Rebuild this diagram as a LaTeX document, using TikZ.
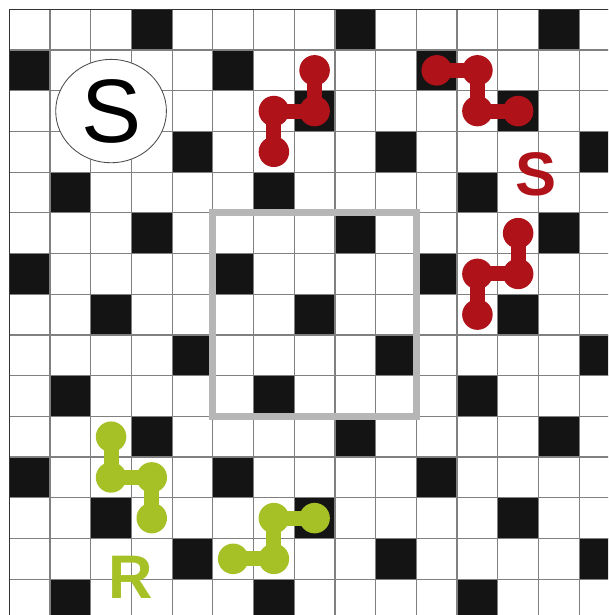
\documentclass[tikz,border=0pt]{standalone}
\usepackage{fontspec}
\setmainfont{Liberation Sans}
\usetikzlibrary{shapes.geometric}
\definecolor{cellblack}{HTML}{141414}
\definecolor{gridgray}{HTML}{808080}
\definecolor{boxgray}{HTML}{B6B6B6}
\definecolor{molred}{HTML}{B0121A}
\definecolor{molgreen}{HTML}{A6C125}
\tikzset{
  gridline/.style={draw=gridgray, line width=0.8pt},
  blackcell/.style={fill=cellblack},
  graybox/.style={draw=boxgray, line width=4.9pt},
  reddot/.style={circle, fill=molred, minimum size=0.75cm, inner sep=0pt},
  redbar/.style={draw=molred, line width=10.4pt},
  greendot/.style={circle, fill=molgreen, minimum size=0.75cm, inner sep=0pt},
  greenbar/.style={draw=molgreen, line width=10.4pt},
  biglabel/.style={font=\bfseries\fontsize{43}{43}\selectfont, inner sep=0pt}
}
\begin{document}
\begin{tikzpicture}[x=1cm,y=1cm]
\useasboundingbox (-0.2285,0.2285) rectangle (14.71,-14.88);
\fill[white] (-0.2285,0.2285) rectangle (14.71,-14.88);
\clip (-0.2285,0.2285) rectangle (14.71,-14.88);
% black cells
\foreach \r in {0,...,14} {
  \foreach \k in {0,1,2} {
    \pgfmathtruncatemacro\c{mod(3+2*\r,5)+5*\k}
    \fill[blackcell] (\c,-\r) rectangle ++(1,-1);
  }
}
% grid
\draw[gridline] (0,0) grid (15,-15);
\draw[draw=black!80, line width=0.8pt] (0,-15) -- (0,0) -- (15,0);
% gray square
\draw[graybox] (5,-5) rectangle (10,-10);
% start circle
\node[ellipse, draw=black!70, line width=0.6pt, fill=white, minimum width=2.72cm, minimum height=2.54cm, inner sep=0pt, font=\fontsize{63}{63}\selectfont] (start) at (2.5,-2.5) {S};
% red molecule 1
\node[reddot] (r1a) at (7.5,-1.5) {};
\node[reddot] (r1b) at (7.5,-2.5) {};
\node[reddot] (r1c) at (6.5,-2.5) {};
\node[reddot] (r1d) at (6.5,-3.5) {};
\draw[redbar] (r1a.center) -- (r1b.center) -- (r1c.center) -- (r1d.center);
% red molecule 2
\node[reddot] (r2a) at (10.5,-1.5) {};
\node[reddot] (r2b) at (11.5,-1.5) {};
\node[reddot] (r2c) at (11.5,-2.5) {};
\node[reddot] (r2d) at (12.5,-2.5) {};
\draw[redbar] (r2a.center) -- (r2b.center) -- (r2c.center) -- (r2d.center);
% red molecule 3
\node[reddot] (r3a) at (12.5,-5.5) {};
\node[reddot] (r3b) at (12.5,-6.5) {};
\node[reddot] (r3c) at (11.5,-6.5) {};
\node[reddot] (r3d) at (11.5,-7.5) {};
\draw[redbar] (r3a.center) -- (r3b.center) -- (r3c.center) -- (r3d.center);
% green molecule 1
\node[greendot] (g1a) at (2.5,-10.5) {};
\node[greendot] (g1b) at (2.5,-11.5) {};
\node[greendot] (g1c) at (3.5,-11.5) {};
\node[greendot] (g1d) at (3.5,-12.5) {};
\draw[greenbar] (g1a.center) -- (g1b.center) -- (g1c.center) -- (g1d.center);
% green molecule 2
\node[greendot] (g2a) at (5.5,-13.5) {};
\node[greendot] (g2b) at (6.5,-13.5) {};
\node[greendot] (g2c) at (6.5,-12.5) {};
\node[greendot] (g2d) at (7.5,-12.5) {};
\draw[greenbar] (g2a.center) -- (g2b.center) -- (g2c.center) -- (g2d.center);
% labels
\node[biglabel, text=molred] (slabel) at (12.94,-4.05) {S};
\node[biglabel, text=molgreen] (rlabel) at (2.99,-13.96) {R};
\end{tikzpicture}
\end{document}
